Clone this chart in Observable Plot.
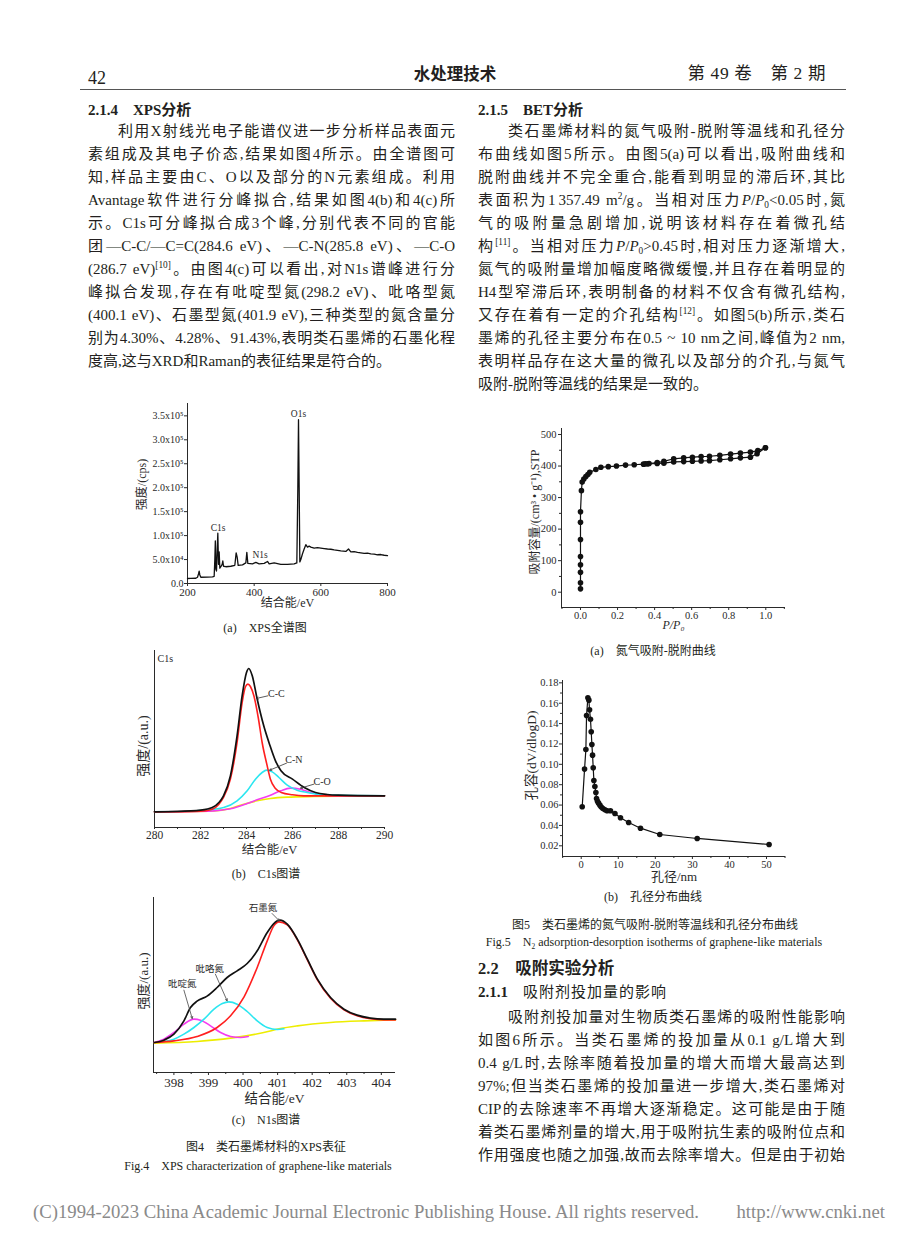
<!DOCTYPE html>
<html lang="zh">
<head>
<meta charset="utf-8">
<script src="https://cdn.jsdelivr.net/npm/d3@7"></script>
<script src="https://cdn.jsdelivr.net/npm/@observablehq/plot@0.6"></script>
<style>
html,body{margin:0;padding:0;background:#fff;}
#page{position:relative;width:920px;height:1249px;overflow:hidden;background:#fff;color:#231f20;font-family:"Liberation Serif","Noto Sans CJK SC",serif;}
.t{position:absolute;font-size:15px;line-height:23px;height:23px;white-space:nowrap;}
.j{text-align:justify;text-align-last:justify;white-space:normal;}
.L{left:88px;width:367px;}
.R{left:478px;width:367px;}
.in{text-indent:30px;}
.cap{position:absolute;font-size:12px;line-height:16px;height:16px;text-align:center;white-space:nowrap;width:360px;}
sup{font-size:62%;vertical-align:0;position:relative;top:-0.6em;}
sub{font-size:62%;vertical-align:0;position:relative;top:0.35em;}
#page svg{position:absolute;overflow:visible;}
</style>
</head>
<body>
<div id="page"></div>
<script>
// ================= DATA =================
// Fig.4(a) XPS survey spectrum
const survey_eV = [200,210,225,230,233,235,237,240,260,275,280,282,283.5,285,287,289,291,293,295,297,300,304,306,308,315,330,342,346,349,352,365,375,378,381,395,405,415,430,440,445,460,480,500,520,528,531,533,535,537,540,545,550,555,560,565,570,580,590,600,610,620,630,640,650,660,675,683,690,700,710,720,730,740,750,760,770,780,790,800];
const survey_cps = [10400,10500,11000,13000,20000,26000,18000,13000,13500,14000,15000,50000,89000,30000,26000,70000,105000,40000,66000,32000,35000,40000,47000,36000,35000,36000,38000,64000,55000,38000,39000,43000,65000,42000,41000,44000,41000,42000,46000,41000,43000,40000,40000,41000,43000,200000,342000,200000,45000,50000,62000,72000,81000,76000,78000,76000,74000,75000,74000,73000,72000,71500,70000,69000,68000,67000,72000,66000,66500,65000,64000,63000,63500,62000,61500,60000,60500,59000,58000];
const survey_xTicks = [200,400,600,800];
const survey_yTicks = [0,50000,100000,150000,200000,250000,300000,350000];
const survey_yTickLabels = ["0.0","5.0x10⁴","1.0x10⁵","1.5x10⁵","2.0x10⁵","2.5x10⁵","3.0x10⁵","3.5x10⁵"];
const survey_peakNames = ["C1s","N1s","O1s"];
const survey_peak_eV = [292,418,533];
const survey_peak_cps = [116000,60000,355000];

// Fig.4(b) C1s high resolution: [eV, intensity a.u.]
const c1s_envelope = [[280,47],[281,48],[282,52],[282.51,60],[282.8,75],[283,95],[283.3,155],[283.59,275],[283.81,395],[284,465],[284.1,477],[284.25,455],[284.45,390],[284.6,345],[284.75,305],[285,250],[285.26,200],[285.5,170],[286,145],[286.51,120],[287,105],[287.51,99],[288,97],[290,95]];
const c1s_CC = [[280,47],[282,49],[282.51,55],[282.8,70],[283,90],[283.3,145],[283.59,255],[283.81,375],[283.96,423],[284.06,430],[284.17,423],[284.32,395],[284.51,330],[284.68,255],[284.9,185],[285.04,145],[285.26,117],[285.51,105],[286,98],[286.49,95],[290,95]];
const c1s_CN = [[280,47],[282,51],[283.01,60],[283.59,80],[284.03,110],[284.39,145],[284.68,165],[284.87,172],[285.12,167],[285.41,150],[285.77,127],[286.2,112],[286.64,105],[287.07,100],[287.65,97],[290,95]];
const c1s_CO = [[280,47],[282.58,50],[283.3,56],[284.03,72],[284.46,83],[285.04,97],[285.48,110],[285.91,118],[286.35,115],[286.78,105],[287.22,98],[287.94,95],[290,95]];
const c1s_base = [[280,47],[282.58,50],[283.3,57],[283.88,70],[284.46,80],[285.04,87],[285.77,91],[286.93,93],[290,95]];
const c1s_xTicks = [280,282,284,286,288,290];
const c1s_xMinor = [281,283,285,287,289];
const c1s_labels = ["C-C","C-N","C-O"];
const c1s_label_x = [285.30,286.06,287.29];
const c1s_label_y = [400,203,137];
const c1s_arrow_from = [[284.93,395],[285.74,193],[286.93,130]];
const c1s_arrow_to = [[284.43,387],[285.01,172],[286.35,118]];

// Fig.4(c) N1s high resolution
const n1s_envelope = [[397.44,90],[397.71,97],[398,115],[398.29,155],[398.48,195],[398.67,214],[398.96,229],[399.25,255],[399.54,285],[399.83,305],[400.12,327],[400.41,365],[400.7,420],[400.99,455],[401.07,457],[401.28,445],[401.57,400],[401.86,340],[402.15,280],[402.53,225],[402.92,190],[403.3,172],[403.69,163],[404.07,160],[404.41,160]];
const n1s_graphitic = [[397.44,90],[398,95],[398.67,108],[399.25,135],[399.64,170],[400.03,227],[400.41,315],[400.7,395],[400.89,440],[401.04,452],[401.28,443],[401.57,398],[401.86,338],[402.15,278],[402.53,223],[402.92,188],[403.3,170],[403.69,161],[404.07,158],[404.41,158]];
const n1s_pyrrolic = [[397.71,93],[398,100],[398.29,115],[398.58,135],[398.87,160],[399.16,190],[399.4,207],[399.59,212],[399.83,205],[400.12,183],[400.41,155],[400.7,135],[400.99,129],[401.18,131]];
const n1s_pyridinic = [[397.44,90],[397.71,100],[398,120],[398.29,145],[398.58,160],[398.77,157],[399.06,140],[399.35,120],[399.64,108],[399.93,105],[400.15,108]];
const n1s_base = [[397.44,88],[398.67,93],[399.64,103],[400.6,120],[401.08,132],[401.57,140],[402.53,150],[403.5,155],[404.41,158]];
const n1s_xTicks = [398,399,400,401,402,403,404];
const n1s_xMinor = [397.5,398.5,399.5,400.5,401.5,402.5,403.5];
const n1s_labels = ["石墨氮","吡咯氮","吡啶氮"];
const n1s_label_x = [400.58,399.04,398.24];
const n1s_label_y = [495,312,265];
const n1s_arrow_from = [[400.84,477],[399.2,295],[398.29,247]];
const n1s_arrow_to = [[401.05,455],[399.54,215],[398.53,162]];

// Fig.5(a) N2 adsorption-desorption isotherm
const ads_p = [0,0,0,0,0,0,0,0,0.005,0.009,0.018,0.029,0.04,0.05,0.083,0.11,0.15,0.194,0.243,0.29,0.34,0.363,0.414,0.45,0.503,0.557,0.604,0.651,0.696,0.752,0.81,0.863,0.917,0.953,0.998];
const ads_v = [10.6,29.6,63,87,113,167,222,255,322,349,359,367,373,380,389,396,398,400,403,404,406,407,408,409,413,414,415,416,417,420,423,426,428,439,458];
const des_p = [0.998,0.957,0.917,0.863,0.81,0.752,0.696,0.651,0.604,0.557,0.503,0.45,0.414,0.37,0.35];
const des_v = [458,449,444,441,438,434,431,430,428,426,423,415,411,408,407];
const bet_xTicks = [0,0.2,0.4,0.6,0.8,1.0];
const bet_xMinor = [-0.1,0.1,0.3,0.5,0.7,0.9,1.1];
const bet_yTicks = [0,100,200,300,400,500];
const bet_yMinor = [50,150,250,350,450];

// Fig.5(b) pore size distribution
const psd_d = [0.27,0.9,1.26,1.44,1.8,2.07,2.25,2.5,2.7,2.88,3.06,3.24,3.42,3.69,3.96,4.14,4.4,4.68,5.04,5.4,5.85,6.4,7.0,7.9,9.1,10.6,12.8,16.0,21.2,31.3,50.7];
const psd_v = [0.0583,0.0953,0.1146,0.148,0.1653,0.163,0.1535,0.1443,0.132,0.1195,0.109,0.0966,0.0841,0.0782,0.0724,0.0665,0.0638,0.0619,0.0599,0.058,0.0566,0.0553,0.0544,0.0544,0.0517,0.0475,0.0429,0.0373,0.0311,0.0272,0.0213];
const psd_xTicks = [0,10,20,30,40,50];
const psd_xMinor = [-5,5,15,25,35,45,55];
const psd_yTicks = [0.02,0.04,0.06,0.08,0.10,0.12,0.14,0.16,0.18];
const psd_yMinor = [0.03,0.05,0.07,0.09,0.11,0.13,0.15,0.17];

// ================= PAGE TEXT =================
const page = document.getElementById("page");
function addLine(html, cls, cy, style){
  const d = document.createElement("div");
  d.className = "t " + cls;
  d.style.top = (cy - 11.5) + "px";
  if (style) d.style.cssText += style;
  d.innerHTML = html;
  page.appendChild(d);
  return d;
}
function cap(html, cx, cy, size, style){
  const d = document.createElement("div");
  d.className = "cap";
  d.style.left = (cx - 180) + "px";
  d.style.top = (cy - 8) + "px";
  d.style.fontSize = size + "px";
  if (style) d.style.cssText += style;
  d.innerHTML = html;
  page.appendChild(d);
  return d;
}

// header
addLine("42", "", 78, "left:88px;font-size:18px;");
addLine("水处理技术", "", 73, "left:380px;width:150px;text-align:center;font-size:16.5px;font-weight:bold;font-family:'Noto Sans CJK SC';");
addLine("第 49 卷&emsp;第 2 期", "", 73, "right:94px;font-size:17.5px;letter-spacing:0.6px;");
const rule = document.createElement("div");
rule.style.cssText = "position:absolute;left:80px;top:89px;width:766px;height:1px;background:#555;";
page.appendChild(rule);

const leftLines = [
 ["in j", "利用X射线光电子能谱仪进一步分析样品表面元"],
 ["j", "素组成及其电子价态,结果如图4所示。由全谱图可"],
 ["j", "知,样品主要由C、O以及部分的N元素组成。利用"],
 ["j", "Avantage软件进行分峰拟合,结果如图4(b)和4(c)所"],
 ["j", "示。C1s可分峰拟合成3个峰,分别代表不同的官能"],
 ["j", "团—C-C/—C=C(284.6 eV)、—C-N(285.8 eV)、—C-O"],
 ["j", "(286.7 eV)<sup>[10]</sup>。由图4(c)可以看出,对N1s谱峰进行分"],
 ["j", "峰拟合发现,存在有吡啶型氮(298.2 eV)、吡咯型氮"],
 ["j", "(400.1 eV)、石墨型氮(401.9 eV),三种类型的氮含量分"],
 ["j", "别为4.30%、4.28%、91.43%,表明类石墨烯的石墨化程"],
 ["", "度高,这与XRD和Raman的表征结果是符合的。"]
];
addLine("<b>2.1.4</b>&emsp;<b>XPS分析</b>", "L", 110);
leftLines.forEach((l, i) => addLine(l[1], "L " + l[0], 131 + 23 * i));

const rightLines = [
 ["in j", "类石墨烯材料的氮气吸附-脱附等温线和孔径分"],
 ["j", "布曲线如图5所示。由图5(a)可以看出,吸附曲线和"],
 ["j", "脱附曲线并不完全重合,能看到明显的滞后环,其比"],
 ["j", "表面积为1&thinsp;357.49 m<sup>2</sup>/g。当相对压力<i>P</i>/<i>P</i><sub>0</sub>&lt;0.05时,氮"],
 ["j", "气的吸附量急剧增加,说明该材料存在着微孔结"],
 ["j", "构<sup>[11]</sup>。当相对压力<i>P</i>/<i>P</i><sub>0</sub>&gt;0.45时,相对压力逐渐增大,"],
 ["j", "氮气的吸附量增加幅度略微缓慢,并且存在着明显的"],
 ["j", "H4型窄滞后环,表明制备的材料不仅含有微孔结构,"],
 ["j", "又存在着有一定的介孔结构<sup>[12]</sup>。如图5(b)所示,类石"],
 ["j", "墨烯的孔径主要分布在0.5 ~ 10 nm之间,峰值为2 nm,"],
 ["j", "表明样品存在这大量的微孔以及部分的介孔,与氮气"],
 ["", "吸附-脱附等温线的结果是一致的。"]
];
addLine("<b>2.1.5</b>&emsp;<b>BET分析</b>", "R", 110);
rightLines.forEach((l, i) => addLine(l[1], "R " + l[0], 131 + 23 * i));

const lowerLines = [
 ["in j", "吸附剂投加量对生物质类石墨烯的吸附性能影响"],
 ["j", "如图6所示。当类石墨烯的投加量从0.1 g/L增大到"],
 ["j", "0.4 g/L时,去除率随着投加量的增大而增大最高达到"],
 ["j", "97%;但当类石墨烯的投加量进一步增大,类石墨烯对"],
 ["j", "CIP的去除速率不再增大逐渐稳定。这可能是由于随"],
 ["j", "着类石墨烯剂量的增大,用于吸附抗生素的吸附位点和"],
 ["j", "作用强度也随之加强,故而去除率增大。但是由于初始"]
];
addLine("<b style='font-size:16.5px'>2.2&ensp;&ensp;吸附实验分析</b>", "R", 968);
addLine("<b>2.1.1</b>&ensp;&ensp;<span style='letter-spacing:1px'>吸附剂投加量的影响</span>", "R", 992);
lowerLines.forEach((l, i) => addLine(l[1], "R " + l[0], 1017.5 + 23 * i));

// captions
const cjkSans = "font-family:'Liberation Serif','Noto Sans CJK SC';";
cap("(a)&emsp;XPS全谱图", 265, 628, 12, cjkSans);
cap("(b)&emsp;C1s图谱", 266, 874, 12, cjkSans);
cap("(c)&emsp;N1s图谱", 266, 1120, 12, cjkSans);
cap("图4&emsp;类石墨烯材料的XPS表征", 266, 1147, 12, cjkSans);
cap("Fig.4&emsp;XPS characterization of graphene-like materials", 258, 1166, 12);
cap("(a)&emsp;氮气吸附-脱附曲线", 653, 651, 12, cjkSans);
cap("(b)&emsp;孔径分布曲线", 653, 897, 12, cjkSans);
cap("图5&emsp;类石墨烯的氮气吸附-脱附等温线和孔径分布曲线", 655, 925, 12, cjkSans);
cap("Fig.5&emsp;N<sub>2</sub> adsorption-desorption isotherms of graphene-like materials", 654, 942, 12);

// footer
const foot = addLine("(C)1994-2023 China Academic Journal Electronic Publishing House. All rights reserved.&emsp;&emsp;http://www.cnki.net", "", 1211,
  "left:33px;font-size:19px;color:#8a8a8a;font-family:'Liberation Serif',serif;transform-origin:0 50%;");
function fitFooter(){
  foot.style.transform = "none";
  const w = foot.getBoundingClientRect().width;
  if (w > 0) foot.style.transform = "scaleX(" + (852 / w) + ")";
}
fitFooter();
if (document.fonts && document.fonts.ready) document.fonts.ready.then(fitFooter);

// ================= CHARTS =================
const FONT = "'Liberation Serif','Noto Sans CJK SC',serif";
const INK = "#2a2a2a";
function chart(fr, m, x, y, marks){
  const svg = Plot.plot({
    width: fr.x1 - fr.x0 + m[0] + m[1],
    height: fr.y1 - fr.y0 + m[2] + m[3],
    marginLeft: m[0], marginRight: m[1], marginTop: m[2], marginBottom: m[3],
    x, y, marks,
    style: {fontFamily: FONT, fontSize: "11px", color: INK, background: "transparent", overflow: "visible"}
  });
  svg.style.position = "absolute";
  svg.style.left = (fr.x0 - m[0]) + "px";
  svg.style.top = (fr.y0 - m[2]) + "px";
  page.appendChild(svg);
}
const pairs = a => a.map(([x, y]) => ({x, y}));
const xLabel = (t, dy, fs, extra) => Plot.text([t], {text: d => d, frameAnchor: "bottom", dy, fontSize: fs, lineAnchor: "middle", fill: INK, ...(extra || {})});
const yLabel = (t, dx, dy, fs) => Plot.text([t], {text: d => d, frameAnchor: "left", dx, dy, rotate: -90, fontSize: fs, lineAnchor: "middle", textAnchor: "middle", fill: INK});

// ---- Fig.4(a)
{
  const data = survey_eV.map((e, i) => ({e, c: survey_cps[i]}));
  const peaks = survey_peakNames.map((n, i) => ({n, x: survey_peak_eV[i], y: survey_peak_cps[i]}));
  chart({x0:187, x1:387, y0:403, y1:583}, [60, 15, 12, 42],
    {domain: [200, 800]}, {domain: [0, 375800]},
    [
      Plot.ruleX([200], {stroke: INK, strokeWidth: 1}),
      Plot.ruleY([0], {stroke: INK, strokeWidth: 1}),
      Plot.axisY(survey_yTicks, {anchor: "left", tickSize: 3, tickPadding: 1, fontSize: 10, label: null,
        tickFormat: d => survey_yTickLabels[survey_yTicks.indexOf(d)]}),
      Plot.axisX(survey_xTicks, {anchor: "bottom", tickSize: 3, tickPadding: 2, fontSize: 11, label: null}),
      Plot.line(data, {x: "e", y: "c", stroke: "#111", strokeWidth: 1.3}),
      Plot.text(peaks, {x: "x", y: "y", text: "n", fontSize: 9.5, fill: INK}),
      xLabel("结合能/eV", 20, 12),
      yLabel("强度/(cps)", -45, -9, 12)
    ]);
}

// ---- Fig.4(b)
{
  const labs = c1s_labels.map((t, i) => ({t, x: c1s_label_x[i], y: c1s_label_y[i]}));
  const arr = c1s_arrow_from.map((f, i) => ({x1: f[0], y1: f[1], x2: c1s_arrow_to[i][0], y2: c1s_arrow_to[i][1]}));
  chart({x0:154, x1:384, y0:650, y1:827}, [32, 12, 10, 40],
    {domain: [280, 290]}, {domain: [0, 531], axis: null},
    [
      Plot.ruleX([280], {stroke: INK}),
      Plot.ruleY([0], {stroke: INK}),
      Plot.axisX(c1s_xTicks, {anchor: "bottom", tickSize: 2, tickPadding: 1, fontSize: 11.5, label: null}),
      Plot.axisX(c1s_xMinor, {anchor: "bottom", tickSize: 2, tickFormat: () => "", label: null}),
      Plot.line(pairs(c1s_base), {x: "x", y: "y", stroke: "#eded00", strokeWidth: 1.6, curve: "monotone-x"}),
      Plot.line(pairs(c1s_CO), {x: "x", y: "y", stroke: "#f53cf0", strokeWidth: 1.6, curve: "monotone-x"}),
      Plot.line(pairs(c1s_CN), {x: "x", y: "y", stroke: "#2be6f0", strokeWidth: 1.6, curve: "monotone-x"}),
      Plot.line(pairs(c1s_CC), {x: "x", y: "y", stroke: "#ff1f1f", strokeWidth: 1.6, curve: "monotone-x"}),
      Plot.line(pairs(c1s_envelope), {x: "x", y: "y", stroke: "#111", strokeWidth: 1.7, curve: "monotone-x"}),
      Plot.arrow(arr, {x1: "x1", y1: "y1", x2: "x2", y2: "y2", stroke: "#333", strokeWidth: 0.8, headLength: 4}),
      Plot.text(labs, {x: "x", y: "y", text: "t", fontSize: 10, fill: INK}),
      Plot.text(["C1s"], {text: d => d, frameAnchor: "top-left", dx: 3, dy: 8, textAnchor: "start", lineAnchor: "middle", fontSize: 10, fill: INK}),
      xLabel("结合能/eV", 22.5, 12.5),
      yLabel("强度/(a.u.)", -11, 7, 14)
    ]);
}

// ---- Fig.4(c)
{
  const labs = n1s_labels.map((t, i) => ({t, x: n1s_label_x[i], y: n1s_label_y[i]}));
  const arr = n1s_arrow_from.map((f, i) => ({x1: f[0], y1: f[1], x2: n1s_arrow_to[i][0], y2: n1s_arrow_to[i][1]}));
  chart({x0:153, x1:395, y0:897, y1:1072}, [32, 12, 10, 40],
    {domain: [397.41, 404.41]}, {domain: [0, 525], axis: null},
    [
      Plot.ruleX([397.41], {stroke: INK}),
      Plot.ruleY([0], {stroke: INK}),
      Plot.axisX(n1s_xTicks, {anchor: "bottom", tickSize: 3, tickPadding: 2, fontSize: 13, label: null}),
      Plot.axisX(n1s_xMinor, {anchor: "bottom", tickSize: 2, tickFormat: () => "", label: null}),
      Plot.line(pairs(n1s_base), {x: "x", y: "y", stroke: "#eded00", strokeWidth: 1.6, curve: "monotone-x"}),
      Plot.line(pairs(n1s_pyridinic), {x: "x", y: "y", stroke: "#f53cf0", strokeWidth: 1.6, curve: "monotone-x"}),
      Plot.line(pairs(n1s_pyrrolic), {x: "x", y: "y", stroke: "#2be6f0", strokeWidth: 1.6, curve: "monotone-x"}),
      Plot.line(pairs(n1s_graphitic), {x: "x", y: "y", stroke: "#ff1f1f", strokeWidth: 1.6, curve: "monotone-x"}),
      Plot.line(pairs(n1s_envelope), {x: "x", y: "y", stroke: "#111", strokeWidth: 1.7, curve: "monotone-x"}),
      Plot.arrow(arr, {x1: "x1", y1: "y1", x2: "x2", y2: "y2", stroke: "#444", strokeWidth: 0.8, headLength: 4}),
      Plot.text(labs, {x: "x", y: "y", text: "t", fontSize: 9.5, fill: INK}),
      xLabel("结合能/eV", 26, 13.5),
      yLabel("强度/(a.u.)", -10, -4, 13)
    ]);
}

// ---- Fig.5(a)
{
  const ads = ads_p.map((p, i) => ({p, v: ads_v[i], b: "ads"}));
  const des = des_p.map((p, i) => ({p, v: des_v[i], b: "des"}));
  const all = ads.concat(des);
  chart({x0:561, x1:785, y0:428, y1:607}, [50, 12, 10, 34],
    {domain: [-0.1025, 1.1064]}, {domain: [-48.5, 519]},
    [
      Plot.ruleX([-0.1025], {stroke: INK}),
      Plot.ruleY([-48.5], {stroke: INK}),
      Plot.axisY(bet_yTicks, {anchor: "left", tickSize: 3, tickPadding: 2, fontSize: 10.5, label: null}),
      Plot.axisY(bet_yMinor, {anchor: "left", tickSize: 2, tickFormat: () => "", label: null}),
      Plot.axisX(bet_xTicks, {anchor: "bottom", tickSize: 3, tickPadding: 1, fontSize: 10.5, label: null, tickFormat: d => d.toFixed(1)}),
      Plot.axisX(bet_xMinor, {anchor: "bottom", tickSize: 2, tickFormat: () => "", label: null}),
      Plot.line(all, {x: "p", y: "v", z: "b", stroke: "#111", strokeWidth: 1.2}),
      Plot.dot(all, {x: "p", y: "v", r: 2.8, fill: "#111", stroke: "none"}),
      xLabel("P/P₀", 18, 12, {fontStyle: "italic"}),
      yLabel("吸附容量/(cm³ • g⁻¹),STP", -26, -6, 12)
    ]);
}

// ---- Fig.5(b)
{
  const data = psd_d.map((d, i) => ({d, v: psd_v[i]}));
  chart({x0:562, x1:785, y0:680, y1:856}, [50, 12, 10, 34],
    {domain: [-5.05, 55.13]}, {domain: [0.0095, 0.1823]},
    [
      Plot.ruleX([-5.05], {stroke: INK}),
      Plot.ruleY([0.0095], {stroke: INK}),
      Plot.axisY(psd_yTicks, {anchor: "left", tickSize: 3, tickPadding: 1, fontSize: 10.5, label: null, tickFormat: d => d.toFixed(2)}),
      Plot.axisY(psd_yMinor, {anchor: "left", tickSize: 2, tickFormat: () => "", label: null}),
      Plot.axisX(psd_xTicks, {anchor: "bottom", tickSize: 3, tickPadding: 1, fontSize: 10.5, label: null}),
      Plot.axisX(psd_xMinor, {anchor: "bottom", tickSize: 2, tickFormat: () => "", label: null}),
      Plot.line(data, {x: "d", y: "v", stroke: "#111", strokeWidth: 1.2}),
      Plot.dot(data, {x: "d", y: "v", r: 2.8, fill: "#111", stroke: "none"}),
      xLabel("孔径/nm", 20, 13),
      yLabel("孔容(dV/dlogD)", -31, -13, 13.5)
    ]);
}
</script>
</body>
</html>
